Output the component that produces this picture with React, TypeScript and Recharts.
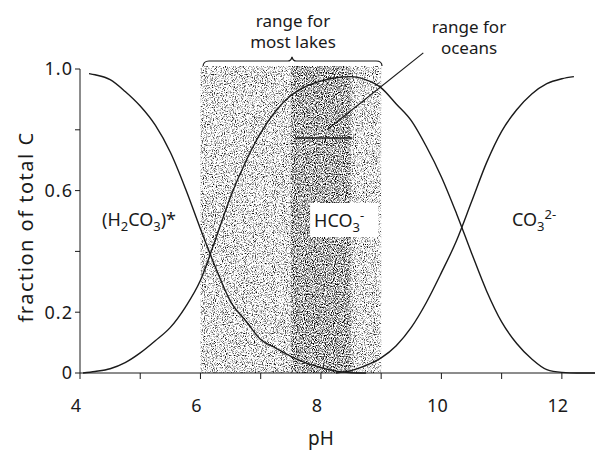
import { LineChart, Line, XAxis, YAxis, ReferenceArea, ReferenceLine } from 'recharts'

// (H2CO3)* fraction
const phH2co3 = [4.15, 4.25, 4.5, 4.75, 5, 5.25, 5.5, 5.75, 6, 6.25, 6.5, 6.75, 7, 7.25, 7.5, 7.75, 8, 8.25, 8.5, 8.75]
const fracH2co3 = [0.985, 0.981, 0.965, 0.926, 0.878, 0.815, 0.726, 0.607, 0.474, 0.347, 0.235, 0.172, 0.11, 0.082, 0.055, 0.033, 0.018, 0.006, 0.001, 0]

// HCO3- fraction
const phHco3 = [4.05, 4.25, 4.5, 4.75, 5, 5.25, 5.5, 5.75, 6, 6.25, 6.5, 6.75, 7, 7.25, 7.5, 7.75, 8, 8.25, 8.5, 8.75, 9, 9.25, 9.5, 9.75, 10, 10.25, 10.5, 10.75, 11, 11.25, 11.5, 11.75, 12, 12.25, 12.55]
const fracHco3 = [0, 0.005, 0.014, 0.034, 0.066, 0.106, 0.15, 0.217, 0.305, 0.44, 0.58, 0.695, 0.79, 0.862, 0.913, 0.943, 0.96, 0.971, 0.975, 0.964, 0.938, 0.885, 0.83, 0.745, 0.645, 0.525, 0.395, 0.27, 0.168, 0.097, 0.046, 0.011, 0.002, 0, 0]

// CO3 2- fraction
const phCo3 = [8.25, 8.5, 8.75, 9, 9.25, 9.5, 9.75, 10, 10.25, 10.5, 10.75, 11, 11.25, 11.5, 11.75, 12, 12.2]
const fracCo3 = [0, 0.008, 0.025, 0.05, 0.09, 0.15, 0.232, 0.33, 0.435, 0.563, 0.692, 0.795, 0.866, 0.918, 0.952, 0.968, 0.975]

const lakeRange = [6, 9]
const oceanRange = [7.5, 8.5]

const xTicks = [4, 5, 6, 7, 8, 9, 10, 11, 12]
const yTicks = [0, 0.2, 0.4, 0.6, 0.8, 1]
const yLabels: Record<string, string> = { '0': '0', '0.2': '0.2', '0.6': '0.6', '1': '1.0' }

const toPoints = (ph: number[], frac: number[]) => ph.map((p, i) => ({ ph: p, frac: frac[i] }))

const font = 'Noto Sans'
const ink = '#1a1a1a'

// HCO3- label sitting in its white box
function HcoLabel(props: any) {
  const vb = props.viewBox || { x: 0, y: 0 }
  return (
    <text x={vb.x + 4} y={vb.y + 24} fontFamily={font} fontSize={18} fill={ink}>
      HCO<tspan dy={5} fontSize={13}>3</tspan>
      <tspan dy={-12} fontSize={13}>-</tspan>
    </text>
  )
}

export default function App() {
  return (
    <div style={{ position: 'absolute', left: 0, top: 0, background: '#fff' }}>
      <LineChart
        width={595}
        height={451}
        margin={{ top: 69, right: 0, bottom: 0, left: 0 }}
        style={{ fontFamily: font }}
      >
        <defs>
          <filter id='grainLight' x='0' y='0' width='100%' height='100%' colorInterpolationFilters='sRGB'>
            <feTurbulence type='fractalNoise' baseFrequency='0.9' numOctaves={2} seed={4} />
            <feColorMatrix type='matrix' values='0 0 0 0 0  0 0 0 0 0  0 0 0 0 0  1 0 0 0 0' />
            <feComponentTransfer>
              <feFuncA type='linear' slope={3} intercept={-1.45} />
            </feComponentTransfer>
          </filter>
          <filter id='grainDark' x='0' y='0' width='100%' height='100%' colorInterpolationFilters='sRGB'>
            <feTurbulence type='fractalNoise' baseFrequency='0.9' numOctaves={2} seed={9} />
            <feColorMatrix type='matrix' values='0 0 0 0 0  0 0 0 0 0  0 0 0 0 0  1 0 0 0 0' />
            <feComponentTransfer>
              <feFuncA type='linear' slope={3} intercept={-1.2} />
            </feComponentTransfer>
          </filter>
          <pattern id='lakeTex' patternUnits='userSpaceOnUse' width={595} height={451}>
            <rect width={595} height={451} fill='#fff' />
            <rect width={595} height={451} filter='url(#grainLight)' />
          </pattern>
          <pattern id='oceanTex' patternUnits='userSpaceOnUse' width={595} height={451}>
            <rect width={595} height={451} fill='#fff' />
            <rect width={595} height={451} filter='url(#grainDark)' />
          </pattern>
        </defs>
        <XAxis
          type='number'
          dataKey='ph'
          domain={[4, 12.55]}
          ticks={xTicks}
          interval={0}
          height={78}
          tickMargin={20}
          tickFormatter={(v: number) => (v % 2 === 0 ? String(v) : '')}
          stroke={ink}
          tick={{ fill: ink, fontSize: 18, fontFamily: font, dx: -4 }}
          allowDataOverflow
        />
        <YAxis
          type='number'
          domain={[0, 1]}
          ticks={yTicks}
          interval={0}
          width={80}
          tickSize={5}
          tickFormatter={(v: number) => yLabels[String(v)] ?? ''}
          stroke={ink}
          tick={{ fill: ink, fontSize: 18, fontFamily: font, letterSpacing: 1 }}
        />
        <ReferenceArea x1={lakeRange[0]} x2={lakeRange[1]} y1={0} y2={1.01} fill='url(#lakeTex)' fillOpacity={1} stroke='none' ifOverflow='visible' />
        <ReferenceArea x1={oceanRange[0]} x2={oceanRange[1]} y1={0} y2={1.01} fill='url(#oceanTex)' fillOpacity={1} stroke='none' ifOverflow='visible' />
        <ReferenceArea x1={7.82} x2={8.95} y1={0.447} y2={0.559} fill='#fff' fillOpacity={1} stroke='none' ifOverflow='visible' label={<HcoLabel />} />
        <ReferenceLine segment={[{ x: 7.57, y: 0.773 }, { x: 8.52, y: 0.773 }]} stroke={ink} strokeWidth={1.4} ifOverflow='visible' />
        <ReferenceLine segment={[{ x: 8.1, y: 0.8 }, { x: 9.7, y: 1.053 }]} stroke={ink} strokeWidth={1.2} ifOverflow='visible' />
        <Line data={toPoints(phH2co3, fracH2co3)} dataKey='frac' type='monotone' stroke={ink} strokeWidth={1.4} dot={false} isAnimationActive={false} />
        <Line data={toPoints(phHco3, fracHco3)} dataKey='frac' type='monotone' stroke={ink} strokeWidth={1.4} dot={false} isAnimationActive={false} />
        <Line data={toPoints(phCo3, fracCo3)} dataKey='frac' type='monotone' stroke={ink} strokeWidth={1.4} dot={false} isAnimationActive={false} />
        <path d='M203 67 Q203 61 209 61 L288 61 Q291 61 292 57 Q293 61 296 61 L376 61 Q382 61 382 66' fill='none' stroke={ink} strokeWidth={1.2} />
        <g fontFamily={font} fill={ink} fontSize={17}>
          <text x={293} y={27} textAnchor='middle'>range for</text>
          <text x={293} y={48} textAnchor='middle'>most lakes</text>
          <text x={469} y={33} textAnchor='middle'>range for</text>
          <text x={469} y={54} textAnchor='middle'>oceans</text>
          <text x={102} y={226} fontSize={18}>
            (H<tspan dy={5} fontSize={13}>2</tspan>
            <tspan dy={-5}>CO</tspan>
            <tspan dy={5} fontSize={13}>3</tspan>
            <tspan dy={-5}>)*</tspan>
          </text>
          <text x={512} y={226} fontSize={18}>
            CO<tspan dy={5} fontSize={13}>3</tspan>
            <tspan dy={-12} fontSize={13}>2-</tspan>
          </text>
          <text x={321} y={445} textAnchor='middle' fontSize={19}>pH</text>
          <text x={33} y={227} textAnchor='middle' fontSize={20} letterSpacing={1.5} transform='rotate(-90, 33, 227)'>
            fraction of total C
          </text>
        </g>
      </LineChart>
    </div>
  )
}
